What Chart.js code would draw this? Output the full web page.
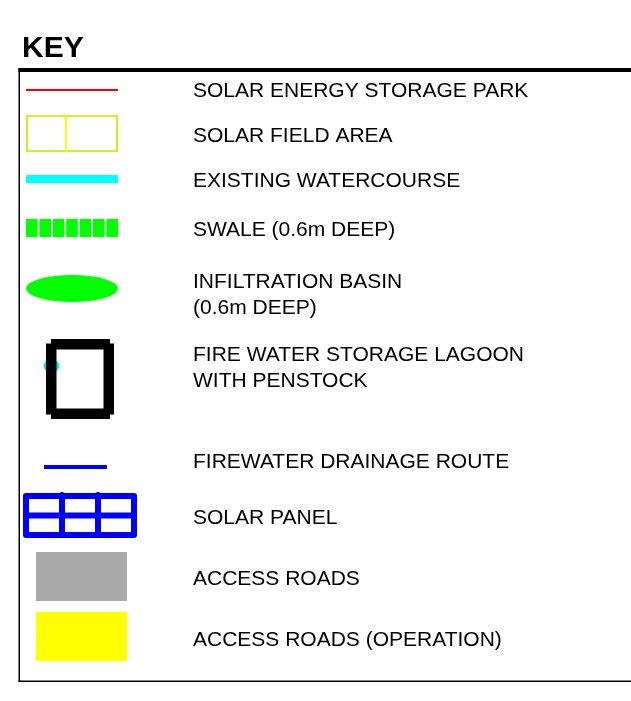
<!DOCTYPE html>
<html>
<head>
<meta charset="utf-8">
<title>Key</title>
<script src="https://cdn.jsdelivr.net/npm/chart.js@4.4.1/dist/chart.umd.min.js"></script>
<style>
    html, body { margin: 0; padding: 0; background: #ffffff; }
    #wrap { width: 631px; height: 701px; }
</style>
</head>
<body>
<div id="wrap"><canvas id="keyChart"></canvas></div>
<script>
const keyTitle = "KEY";
const keyLabels = [
    ["SOLAR ENERGY STORAGE PARK"],
    ["SOLAR FIELD AREA"],
    ["EXISTING WATERCOURSE"],
    ["SWALE (0.6m DEEP)"],
    ["INFILTRATION BASIN", "(0.6m DEEP)"],
    ["FIRE WATER STORAGE LAGOON", "WITH PENSTOCK"],
    ["FIREWATER DRAINAGE ROUTE"],
    ["SOLAR PANEL"],
    ["ACCESS ROADS"],
    ["ACCESS ROADS (OPERATION)"],
];
const keySymbols = ["line", "field", "line", "swale", "basin", "lagoon", "line", "panel", "block", "block"];
const swaleSegments = 7;
const panelRows = 2;
const panelCols = 3;

// styles and layout (in the hidden 631 x 701 scale space)
const symbolColors = ["#ff0000", "#d2f020", "#00ffff", "#00ff00", "#00ff00", "#000000", "#0000ff", "#0000ff", "#a9a9a9", "#ffff00"];
const textBaselines = [97, 142, 187, 236, 288, 361, 468, 524, 585, 646];
const symbolBoxes = [
    [26, 89, 118, 91],
    [26, 115, 118, 152],
    [26, 175, 118, 183],
    [26, 219, 118, 237],
    [26, 275, 118, 302],
    [46, 339, 114, 419],
    [44, 465, 107, 469],
    [23, 493, 137, 538],
    [36, 552, 127, 601],
    [36, 612, 127, 661],
];
const textX = 193;
const lineGap = 26;
const textStretch = 1.05;

const keyPlugin = {
    id: "keyPlugin",
    afterDraw(chart) {
        const ctx = chart.ctx;
        const sx = chart.scales.x;
        const sy = chart.scales.y;
        const X = (v) => sx.getPixelForValue(v);
        const Y = (v) => sy.getPixelForValue(v);
        const rect = (x0, y0, x1, y1) => ctx.fillRect(X(x0), Y(y0), X(x1) - X(x0), Y(y1) - Y(y0));

        ctx.save();

        // frame
        ctx.fillStyle = "#000000";
        rect(18.5, 68, 631, 72);
        rect(18.5, 68, 20, 682);
        rect(18.5, 680.5, 631, 682);

        // title
        ctx.font = "bold 30px 'Liberation Sans', Arial, sans-serif";
        ctx.textBaseline = "alphabetic";
        ctx.fillText(keyTitle, X(22), Y(56.5));

        keySymbols.forEach((kind, i) => {
            const [x0, y0, x1, y1] = symbolBoxes[i];
            const color = symbolColors[i];
            ctx.fillStyle = color;
            ctx.strokeStyle = color;

            if (kind === "line" || kind === "block") {
                rect(x0, y0, x1, y1);
            } else if (kind === "field") {
                ctx.lineWidth = 2;
                ctx.strokeRect(X(x0 + 1), Y(y0 + 1), X(x1) - X(x0) - 2, Y(y1) - Y(y0) - 2);
                ctx.fillStyle = "#ffff00";
                const mid = (x0 + x1) / 2 - 6;
                rect(mid - 1, y0 + 1, mid + 1, y1 - 1);
            } else if (kind === "swale") {
                const gap = 1.8;
                const w = (x1 - x0 - gap * (swaleSegments - 1)) / swaleSegments;
                for (let s = 0; s < swaleSegments; s++) {
                    const a = x0 + s * (w + gap);
                    rect(a, y0, a + w, y1);
                }
            } else if (kind === "basin") {
                ctx.beginPath();
                ctx.ellipse(X((x0 + x1) / 2), Y((y0 + y1) / 2), (X(x1) - X(x0)) / 2, (Y(y1) - Y(y0)) / 2, 0, 0, Math.PI * 2);
                ctx.fill();
            } else if (kind === "lagoon") {
                // penstock marker under the frame
                ctx.fillStyle = "#00e5ee";
                ctx.beginPath();
                ctx.ellipse(X(x0 + 5.5), Y(366), 8, 6.5, 0, 0, Math.PI * 2);
                ctx.fill();
                ctx.fillStyle = color;
                const t = 10.5;
                rect(x0 + 5, y0, x1 - 4, y0 + t);
                rect(x0 + 5, y1 - t, x1 - 4, y1);
                rect(x0, y0 + 4.5, x0 + t, y1 - 4.5);
                rect(x1 - t, y0 + 4.5, x1, y1 - 4.5);
            } else if (kind === "panel") {
                const lw = 6;
                const h = lw / 2;
                ctx.lineWidth = lw;
                ctx.lineJoin = "round";
                ctx.lineCap = "round";
                ctx.strokeRect(X(x0 + h), Y(y0 + h), X(x1 - h) - X(x0 + h), Y(y1 - h) - Y(y0 + h));
                ctx.beginPath();
                for (let r = 1; r < panelRows; r++) {
                    const yy = y0 + h + (y1 - y0 - lw) * r / panelRows;
                    ctx.moveTo(X(x0 + h), Y(yy));
                    ctx.lineTo(X(x1 - h), Y(yy));
                }
                for (let c = 1; c < panelCols; c++) {
                    const xx = x0 + h + (x1 - x0 - lw) * c / panelCols;
                    ctx.moveTo(X(xx), Y(y0 + h - 1));
                    ctx.lineTo(X(xx), Y(y1 - h));
                }
                ctx.stroke();
            }
        });

        // labels
        ctx.fillStyle = "#000000";
        ctx.font = "20px 'Liberation Sans', Arial, sans-serif";
        keyLabels.forEach((lines, i) => {
            lines.forEach((txt, k) => {
                ctx.save();
                ctx.translate(X(textX), Y(textBaselines[i] + k * lineGap));
                ctx.scale(textStretch, 1);
                ctx.fillText(txt, 0, 0);
                ctx.restore();
            });
        });

        ctx.restore();
    },
};

new Chart(document.getElementById("keyChart"), {
    type: "scatter",
    data: { datasets: [] },
    options: {
        responsive: true,
        maintainAspectRatio: false,
        animation: false,
        layout: { padding: 0 },
        scales: {
            x: { type: "linear", min: 0, max: 631, display: false },
            y: { type: "linear", min: 0, max: 701, reverse: true, display: false },
        },
        plugins: {
            legend: { display: false },
            tooltip: { enabled: false },
        },
    },
    plugins: [keyPlugin],
});
</script>
</body>
</html>
